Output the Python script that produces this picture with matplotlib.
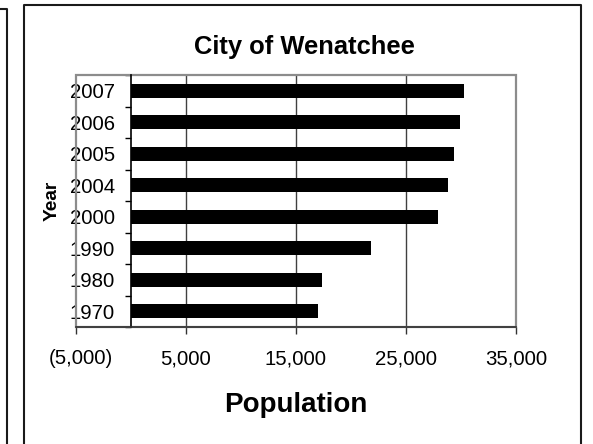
import matplotlib
matplotlib.use("Agg")
import matplotlib.pyplot as plt
from matplotlib.patches import Rectangle
from matplotlib.lines import Line2D
from matplotlib.ticker import FuncFormatter
from matplotlib.transforms import ScaledTranslation

plt.rcParams['font.family'] = ['Liberation Sans', 'DejaVu Sans']

years = ['1970', '1980', '1990', '2000', '2004', '2005', '2006', '2007']
population = [16970, 17330, 21850, 27900, 28800, 29370, 29940, 30300]
xticks = [-5000, 5000, 15000, 25000, 35000]
title = 'City of Wenatchee'
xlabel = 'Population'
ylabel = 'Year'

W, H = 593, 444
fig = plt.figure(figsize=(W / 100, H / 100), dpi=100)
fig.patch.set_facecolor('white')

# plot area in pixel coords
L, R, T, B = 76, 516, 75, 327
ax = fig.add_axes([L / W, 1 - B / H, (R - L) / W, (B - T) / H])

ypos = list(range(len(years)))
ax.barh(ypos, population, height=0.44, color='black', zorder=3)

ax.set_xlim(xticks[0], xticks[-1])
ax.set_ylim(-0.5, len(years) - 0.5)

# interior gridlines
for t in xticks[1:-1]:
    ax.axvline(t, color='#404040', lw=1.0, zorder=1)

# plot-area border
ax.add_patch(Rectangle((0, 0), 1, 1, transform=ax.transAxes, fill=False,
                       edgecolor='#8c8c8c', lw=1.6, zorder=2, clip_on=False))

for s in ['top', 'right']:
    ax.spines[s].set_visible(False)
ax.spines['bottom'].set_color('#333333')
ax.spines['bottom'].set_linewidth(1.2)
ax.spines['bottom'].set_zorder(4)
ax.spines['left'].set_position(('data', 0))
ax.spines['left'].set_color('black')
ax.spines['left'].set_linewidth(1.2)
ax.spines['left'].set_zorder(4)

ax.set_xticks(xticks)
ax.xaxis.set_major_formatter(FuncFormatter(
    lambda v, p: f"({abs(v):,.0f})" if v < 0 else f"{v:,.0f}"))
ax.tick_params(axis='x', direction='out', length=5, width=1.0, color='#333333',
               labelsize=14.7, pad=11, labelcolor='black')

ax.set_yticks(ypos)
ax.set_yticklabels(years)
ax.set_yticks([i - 0.5 for i in range(len(years) + 1)], minor=True)
ax.tick_params(axis='y', which='major', length=0, labelsize=14.7, pad=11.5)
ax.tick_params(axis='y', which='minor', direction='out', length=4.5,
               width=1.0, color='black')
ax.set_facecolor('white')

fig.canvas.draw()
first = ax.get_xticklabels()[0]
first.set_transform(first.get_transform() +
                    ScaledTranslation(5 / 100, 0, fig.dpi_scale_trans))

fig.text(304 / W, 1 - 54 / H, title, ha='center', va='baseline',
         fontsize=18.4, fontweight='bold')
fig.text(296 / W, 1 - 411.7 / H, xlabel, ha='center', va='baseline',
         fontsize=20, fontweight='bold')
fig.text(52.5 / W, 1 - 201 / H, ylabel, ha='center', va='center',
         rotation=90, fontsize=13.8, fontweight='bold')

# chart-area border (open at bottom) and neighbouring chart edge
def px_line(xs, ys, color, lw):
    fig.add_artist(Line2D([x / W for x in xs], [1 - y / H for y in ys],
                          transform=fig.transFigure, color=color, lw=lw))

px_line([24, 24, 581, 581], [450, 5, 5, 450], '#1a1a1a', 1.5)
px_line([-2, 7, 7], [9, 9, 450], '#1a1a1a', 1.5)

fig.savefig('out.png', dpi=100, facecolor='white')
